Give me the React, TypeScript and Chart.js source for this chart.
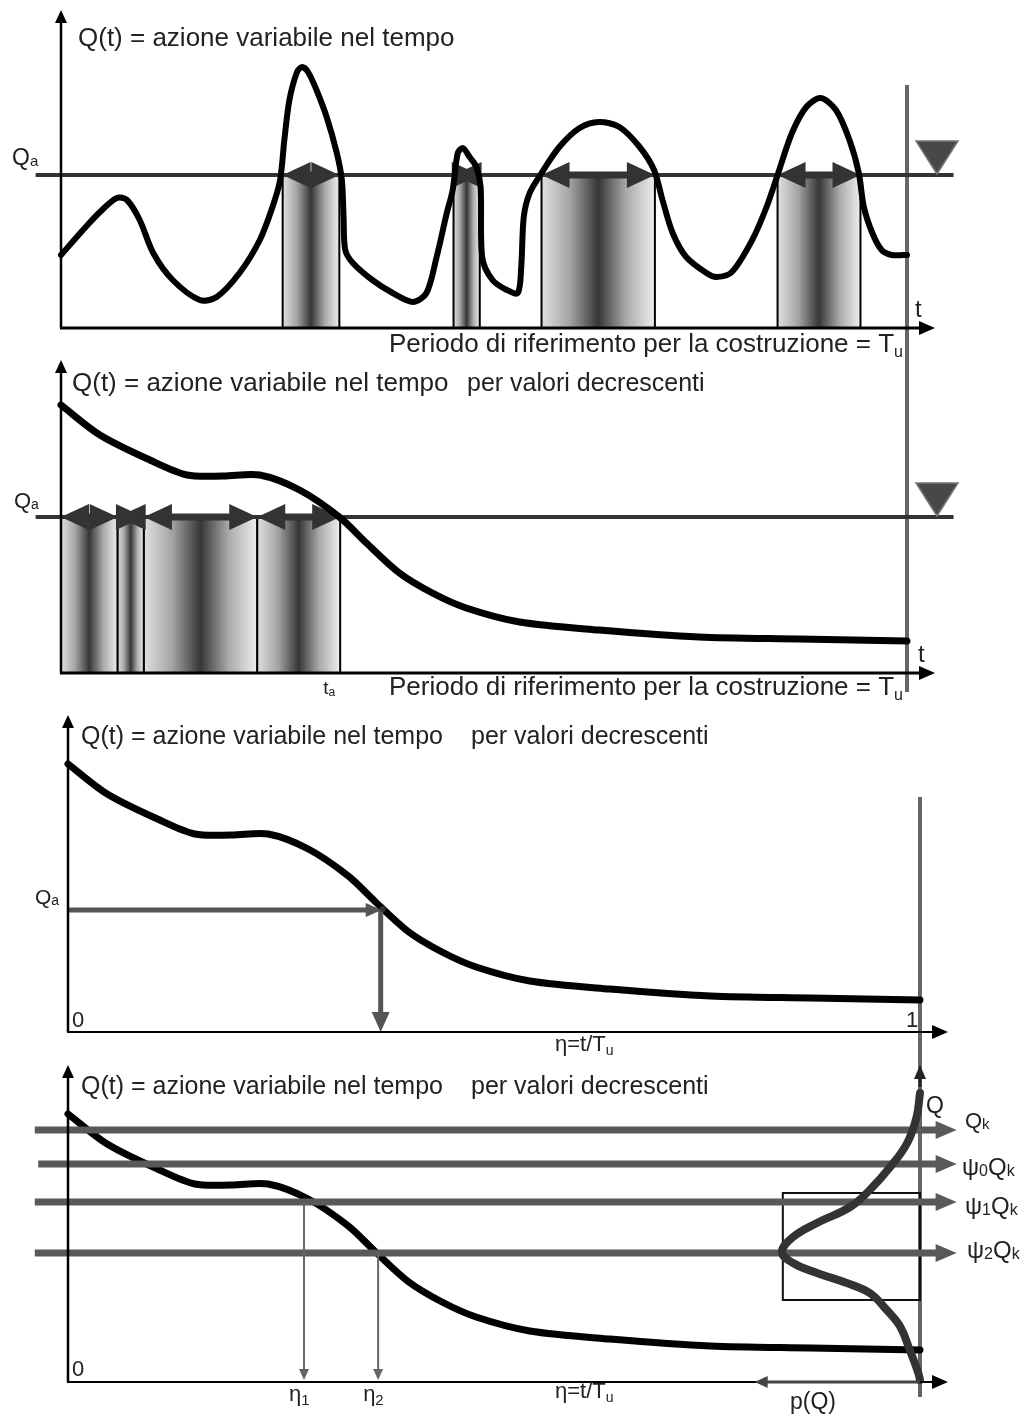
import React, { useEffect, useRef } from 'react';
import { Chart, registerables } from 'chart.js';

Chart.register(...registerables);

// ---------------- DATA ----------------
// Time is expressed as % of the reference period Tu (η·100); Q in drawing units.
// Panel 1: Q(t) variable action over time
const p1Time = [0, 2.6, 4.6, 6.6, 7.8, 9.3, 10.9, 13.2, 16.4, 18.4, 21.1, 23.5, 25.0, 25.9, 26.4, 27.0, 27.9, 28.5, 29.2, 30.2, 31.4, 32.6, 33.2, 33.4, 33.6, 34.5, 36.8, 39.2, 41.6, 43.2, 44.4, 45.6, 46.3, 46.9, 47.5, 48.3, 49.1, 49.6, 49.8, 51.0, 52.7, 54.0, 54.4, 54.7, 55.4, 56.8, 58.9, 61.3, 63.6, 66.0, 68.4, 70.1, 71.1, 72.3, 73.9, 76.3, 77.5, 79.3, 81.7, 83.4, 84.7, 86.4, 88.1, 89.8, 91.6, 93.2, 94.3, 94.9, 95.9, 97.0, 98.2, 99.6, 100];
const p1Value = [73, 98, 116, 130, 128, 108, 75, 48, 28, 31, 55, 88, 121, 148, 188, 228, 256, 261, 256, 238, 211, 175, 148, 111, 78, 65, 48, 35, 26, 35, 71, 115, 138, 175, 180, 171, 161, 141, 70, 48, 38, 35, 61, 111, 135, 155, 181, 200, 206, 201, 181, 158, 128, 95, 71, 55, 51, 56, 88, 121, 153, 195, 221, 230, 218, 188, 155, 121, 95, 78, 73, 73, 73];
const p1Qa = 153;
// intervals where Q(t) exceeds Qa
const excStart = [26.2, 46.4, 56.8, 84.7];
const excEnd = [32.9, 49.5, 70.2, 94.5];

// Panels 2-4: the same action sorted by decreasing values
const decTime = [0, 4.6, 10.5, 14.9, 19.2, 23.5, 28.2, 32.9, 36.1, 40.0, 43.9, 47.9, 54.2, 63.6, 75.4, 87.2, 100];
const decValue = [268, 238, 213, 198, 197, 198, 183, 156, 130, 100, 80, 65, 51, 43, 36, 34, 32];
const p2Qa = 156;

// Panel 3
const p3Qa = 122;
const p3EtaA = 36.7;

// Panel 4
const psiNames = [['Q', 'k'], ['ψ', '0', 'Q', 'k'], ['ψ', '1', 'Q', 'k'], ['ψ', '2', 'Q', 'k']];
const psiValue = [252, 218, 180, 129];
const etaNames = ['1', '2'];
const etaValue = [27.7, 36.4];
const etaLevel = [180, 129];
// density p(Q), drawn leftwards from the t = Tu axis
const pdfQ = [289, 265, 239, 215, 192, 175, 159, 145, 130, 119, 109, 99, 89, 72, 55, 32, 9, 2];
const pdfP = [0, 0.4, 1.5, 3.5, 5.9, 8.2, 12.1, 14.9, 16.2, 14.9, 12.1, 8.6, 5.9, 3.9, 2.3, 1.2, 0.2, 0];
const boxP = [0, 16.1];
const boxQ = [82, 189];

const yMax = [318, 313, 317, 317];

// ---------------- DRAWING HELPERS ----------------
const FONT = '"Liberation Sans", Arial, Helvetica, sans-serif';
const INK = '#222';
const TOPS = [0, 340, 700, 1050];
const HEIGHTS = [705, 380, 723, 373];

function line(ctx: any, x1: number, y1: number, x2: number, y2: number, w: number, c: string) {
  ctx.save();
  ctx.strokeStyle = c;
  ctx.lineWidth = w;
  ctx.lineCap = 'butt';
  ctx.beginPath();
  ctx.moveTo(x1, y1);
  ctx.lineTo(x2, y2);
  ctx.stroke();
  ctx.restore();
}

function head(ctx: any, tx: number, ty: number, ang: number, len: number, hw: number, c: string) {
  ctx.save();
  ctx.translate(tx, ty);
  ctx.rotate(ang);
  ctx.beginPath();
  ctx.moveTo(0, 0);
  ctx.lineTo(-len, -hw);
  ctx.lineTo(-len, hw);
  ctx.closePath();
  ctx.fillStyle = c;
  ctx.fill();
  ctx.restore();
}

// segments: [text, isSubscript]
function rich(ctx: any, x: number, y: number, segs: any[], size: number, color = INK, drop = 0.16, ratio = 0.65) {
  ctx.save();
  ctx.fillStyle = color;
  ctx.textAlign = 'left';
  ctx.textBaseline = 'alphabetic';
  let cx = x;
  for (const [t, sub] of segs) {
    const s = sub ? Math.round(size * ratio) : size;
    ctx.font = `${s}px ${FONT}`;
    ctx.fillText(t, cx, sub ? y + size * drop : y);
    cx += ctx.measureText(t).width;
  }
  ctx.restore();
}

function shade(ctx: any, x1: number, x2: number, yTop: number, yBot: number) {
  const g = ctx.createLinearGradient(x1, 0, x2, 0);
  g.addColorStop(0, '#e0e0e0');
  g.addColorStop(0.25, '#a4a4a4');
  g.addColorStop(0.5, '#363636');
  g.addColorStop(0.75, '#ababab');
  g.addColorStop(1, '#eeeeee');
  ctx.save();
  ctx.fillStyle = g;
  ctx.fillRect(x1, yTop, x2 - x1, yBot - yTop);
  ctx.restore();
  line(ctx, x1, yTop, x1, yBot, 2, '#000');
  line(ctx, x2, yTop, x2, yBot, 2, '#000');
}

function dbl(ctx: any, x1: number, x2: number, y: number, c: string) {
  const len = 28, hw = 13;
  if (x2 - x1 > 2 * len) line(ctx, x1 + len - 2, y, x2 - len + 2, y, 7, c);
  head(ctx, x1, y, Math.PI, len, hw, c);
  head(ctx, x2, y, 0, len, hw, c);
}

function marker(ctx: any, cx: number, tipY: number) {
  ctx.save();
  ctx.beginPath();
  ctx.moveTo(cx - 21, tipY - 33);
  ctx.lineTo(cx + 21, tipY - 33);
  ctx.lineTo(cx, tipY);
  ctx.closePath();
  ctx.fillStyle = '#484848';
  ctx.fill();
  ctx.strokeStyle = '#777';
  ctx.lineWidth = 1.5;
  ctx.stroke();
  ctx.restore();
}

function sc(chart: any) {
  return {
    X: (v: number) => chart.scales.x.getPixelForValue(v),
    Y: (v: number) => chart.scales.y.getPixelForValue(v),
  };
}

function axes(ctx: any, X: any, Y: any, ym: number, xw: number) {
  line(ctx, X(0), Y(0), X(0), Y(ym) + 10, 2.5, '#000');
  head(ctx, X(0), Y(ym), -Math.PI / 2, 13, 6, '#000');
  line(ctx, X(0) - 1, Y(0), X(100) + 14, Y(0), xw, '#000');
  head(ctx, X(100) + 28, Y(0), 0, 16, 7, '#000');
}

function baseOptions(pad: any, ym: number) {
  return {
    responsive: false,
    animation: false,
    events: [],
    layout: { padding: pad },
    plugins: { legend: { display: false }, tooltip: { enabled: false }, title: { display: false } },
    scales: {
      x: { type: 'linear', min: 0, max: 100, display: false },
      y: { type: 'linear', min: 0, max: ym, display: false },
    },
  };
}

function curveDs(xs: number[], ys: number[], width: number, color = '#000', tension = 0.3) {
  return {
    data: xs.map((x, i) => ({ x, y: ys[i] })),
    borderColor: color,
    borderWidth: width,
    pointRadius: 0,
    tension,
    fill: false,
    clip: false,
    borderJoinStyle: 'round',
    borderCapStyle: 'round',
  };
}

const TITLE = 'Q(t) = azione variabile nel tempo';
const TITLE2 = 'per valori decrescenti';
const PERIOD = 'Periodo di riferimento per la costruzione = T';

// ---------------- PANEL CONFIGS ----------------
function config1() {
  const o = TOPS[0];
  return {
    type: 'line',
    data: { datasets: [curveDs(p1Time, p1Value, 6)] },
    options: baseOptions({ left: 61, right: 123, top: 10, bottom: HEIGHTS[0] - 328 }, yMax[0]),
    plugins: [{
      id: 'panel1',
      beforeDatasetsDraw(chart: any) {
        const { ctx } = chart;
        const { X, Y } = sc(chart);
        const yq = Y(p1Qa), y0 = Y(0);
        // Tu line running through panels 1 and 2
        line(ctx, X(100), yq - 90, X(100), y0 + 364, 4, '#666');
        excStart.forEach((s, i) => shade(ctx, X(s), X(excEnd[i]), yq, y0));
        line(ctx, X(-3), yq, X(105.5), yq, 4, '#333');
        excStart.forEach((s, i) => dbl(ctx, X(s), X(excEnd[i]), yq, '#333'));
        marker(ctx, X(100) + 30, yq - 1);
      },
      afterDatasetsDraw(chart: any) {
        const { ctx } = chart;
        const { X, Y } = sc(chart);
        axes(ctx, X, Y, yMax[0], 3);
        rich(ctx, 78, 46 - o, [[TITLE, false]], 26);
        rich(ctx, 12, 165 - o, [['Q', false], ['a', true]], 23, INK, 0.04);
        rich(ctx, 915, 317 - o, [['t', false]], 24);
        rich(ctx, 389, 352 - o, [[PERIOD, false], ['u', true]], 26, INK, 0.2, 0.6);
      },
    }],
  };
}

function config2() {
  const o = TOPS[1];
  const dur = excStart.map((s, i) => excEnd[i] - s);
  const bounds = [0];
  dur.forEach((d) => bounds.push(bounds[bounds.length - 1] + d));
  return {
    type: 'line',
    data: { datasets: [curveDs(decTime, decValue, 7)] },
    options: baseOptions({ left: 61, right: 123, top: 20, bottom: HEIGHTS[1] - 333 }, yMax[1]),
    plugins: [{
      id: 'panel2',
      beforeDatasetsDraw(chart: any) {
        const { ctx } = chart;
        const { X, Y } = sc(chart);
        const yq = Y(p2Qa), y0 = Y(0);
        for (let i = 0; i < dur.length; i++) shade(ctx, X(bounds[i]), X(bounds[i + 1]), yq, y0);
        line(ctx, X(-3), yq, X(105.5), yq, 4, '#333');
        for (let i = 0; i < dur.length; i++) dbl(ctx, X(bounds[i]), X(bounds[i + 1]), yq, '#333');
        marker(ctx, X(100) + 30, yq - 1);
      },
      afterDatasetsDraw(chart: any) {
        const { ctx } = chart;
        const { X, Y } = sc(chart);
        axes(ctx, X, Y, yMax[1], 3);
        rich(ctx, 72, 391 - o, [[TITLE, false]], 26);
        rich(ctx, 467, 391 - o, [[TITLE2, false]], 25);
        rich(ctx, 14, 508 - o, [['Q', false], ['a', true]], 22, INK, 0.04);
        rich(ctx, 918, 662 - o, [['t', false]], 24);
        rich(ctx, 389, 695 - o, [[PERIOD, false], ['u', true]], 26, INK, 0.2, 0.6);
        rich(ctx, X(bounds[dur.length]) - 17, 694 - o, [['t', false], ['a', true]], 19, INK, 0.1);
      },
    }],
  };
}

function config3() {
  const o = TOPS[2];
  return {
    type: 'line',
    data: { datasets: [curveDs(decTime, decValue, 7)] },
    options: baseOptions({ left: 68, right: 110, top: 15, bottom: HEIGHTS[2] - 332 }, yMax[2]),
    plugins: [{
      id: 'panel3',
      beforeDatasetsDraw(chart: any) {
        const { ctx } = chart;
        const { X, Y } = sc(chart);
        // η = 1 line running through panels 3 and 4
        line(ctx, X(100), Y(0) - 235, X(100), Y(0) + 365, 4, '#666');
      },
      afterDatasetsDraw(chart: any) {
        const { ctx } = chart;
        const { X, Y } = sc(chart);
        const yq = Y(p3Qa), xa = X(p3EtaA);
        line(ctx, X(0), yq, xa - 14, yq, 5, '#555');
        head(ctx, xa + 1, yq, 0, 16, 7, '#555');
        line(ctx, xa, yq, xa, Y(0) - 18, 5, '#555');
        head(ctx, xa, Y(0), Math.PI / 2, 20, 9, '#555');
        ctx.save();
        ctx.fillStyle = '#333';
        ctx.beginPath();
        ctx.arc(xa + 2, yq - 1, 3, 0, Math.PI * 2);
        ctx.fill();
        ctx.restore();
        axes(ctx, X, Y, yMax[2], 2);
        rich(ctx, 81, 744 - o, [[TITLE, false]], 25);
        rich(ctx, 471, 744 - o, [[TITLE2, false]], 25);
        rich(ctx, 35, 904 - o, [['Q', false], ['a', true]], 21, INK, 0.04);
        rich(ctx, 72, 1027 - o, [['0', false]], 22);
        rich(ctx, 906, 1027 - o, [['1', false]], 22);
        rich(ctx, 555, 1051 - o, [['η=t/T', false], ['u', true]], 22, INK, 0.2, 0.62);
      },
    }],
  };
}

function config4() {
  const o = TOPS[3];
  const labelPos = [[965, 1128], [962, 1175], [965, 1214], [967, 1258]];
  const labelSize = [22, 24, 24, 24];
  return {
    type: 'line',
    data: {
      datasets: [
        curveDs(pdfP.map((p) => 100 - p), pdfQ, 8, '#333', 0.4),
        curveDs(decTime, decValue, 7),
      ],
    },
    options: baseOptions({ left: 68, right: 110, top: 15, bottom: HEIGHTS[3] - 332 }, yMax[3]),
    plugins: [{
      id: 'panel4',
      beforeDatasetsDraw(chart: any) {
        const { ctx } = chart;
        const { X, Y } = sc(chart);
        ctx.save();
        ctx.strokeStyle = '#111';
        ctx.lineWidth = 2;
        ctx.strokeRect(X(100 - boxP[1]), Y(boxQ[1]), X(100 - boxP[0]) - X(100 - boxP[1]), Y(boxQ[0]) - Y(boxQ[1]));
        ctx.restore();
      },
      afterDatasetDraw(chart: any, args: any) {
        if (args.index !== 1) return;
        const { ctx } = chart;
        const { X, Y } = sc(chart);
        psiValue.forEach((q, i) => {
          const y = Y(q);
          line(ctx, X(i === 1 ? -3.5 : -3.9), y, X(104.3) - 18, y, 7, '#595959');
          head(ctx, X(104.3), y, 0, 21, 9, '#595959');
        });
        etaValue.forEach((e, i) => {
          line(ctx, X(e), Y(etaLevel[i]), X(e), Y(0) - 9, 2, '#666');
          head(ctx, X(e), Y(0) - 2, Math.PI / 2, 11, 5, '#666');
        });
      },
      afterDatasetsDraw(chart: any) {
        const { ctx } = chart;
        const { X, Y } = sc(chart);
        axes(ctx, X, Y, yMax[3], 2);
        // p(Q) axis, pointing left
        line(ctx, X(100), Y(0), X(80.6) + 10, Y(0), 3, '#444');
        head(ctx, X(80.6), Y(0), Math.PI, 13, 6, '#444');
        // Q axis, pointing up
        line(ctx, X(100), Y(yMax[3]) + 10, X(100), Y(yMax[3]) + 22, 3, '#222');
        head(ctx, X(100), Y(yMax[3]), -Math.PI / 2, 14, 6, '#222');
        rich(ctx, 81, 1094 - o, [[TITLE, false]], 25);
        rich(ctx, 471, 1094 - o, [[TITLE2, false]], 25);
        rich(ctx, 72, 1376 - o, [['0', false]], 22);
        rich(ctx, 555, 1398 - o, [['η=t/T', false], ['u', true]], 22, INK, 0.2, 0.62);
        rich(ctx, 926, 1113 - o, [['Q', false]], 23);
        psiNames.forEach((parts, i) => {
          const segs = parts.map((p, j) => [p, j % 2 === 1]);
          rich(ctx, labelPos[i][0], labelPos[i][1] - o, segs, labelSize[i], INK, 0.03, 0.66);
        });
        etaValue.forEach((e, i) => {
          rich(ctx, X(e) - 15, 1401 - o, [['η', false], [etaNames[i], true]], 22, INK, 0.2, 0.66);
        });
        rich(ctx, 790, 1409 - o, [['p(Q)', false]], 23);
      },
    }],
  };
}

export default function App() {
  const r1 = useRef<HTMLCanvasElement>(null);
  const r2 = useRef<HTMLCanvasElement>(null);
  const r3 = useRef<HTMLCanvasElement>(null);
  const r4 = useRef<HTMLCanvasElement>(null);

  useEffect(() => {
    const charts: any[] = [];
    const refs = [r1, r2, r3, r4];
    const cfgs = [config1, config2, config3, config4];
    refs.forEach((r, i) => {
      if (r.current) charts.push(new Chart(r.current, cfgs[i]() as any));
    });
    return () => charts.forEach((c) => c.destroy());
  }, []);

  const refs = [r1, r2, r3, r4];
  return (
    <div style={{ position: 'absolute', left: 0, top: 0, width: 1030, height: 1423, background: '#fff', overflow: 'hidden' }}>
      {refs.map((r, i) => (
        <canvas
          key={i}
          ref={r}
          width={1030}
          height={HEIGHTS[i]}
          style={{ position: 'absolute', left: 0, top: TOPS[i], width: 1030, height: HEIGHTS[i] }}
        />
      ))}
    </div>
  );
}
